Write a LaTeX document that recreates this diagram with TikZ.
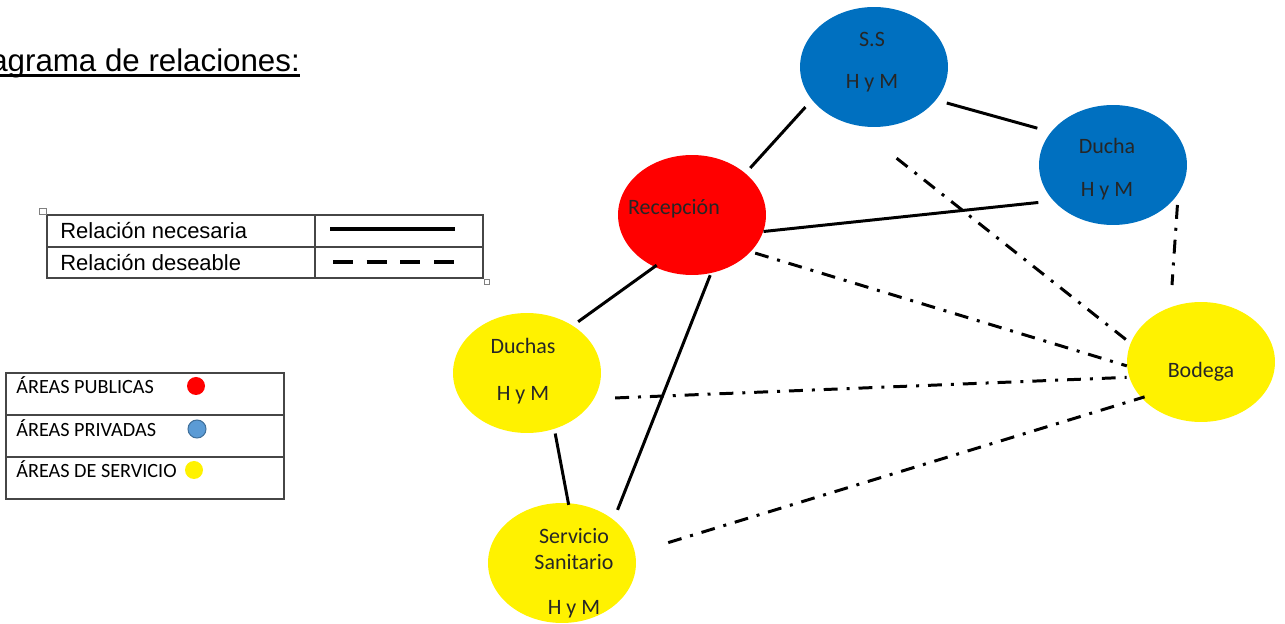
\documentclass[tikz,border=0pt]{standalone}
\usepackage{fontspec}
\setmainfont{Liberation Sans}
\newfontfamily\califont{Carlito}
\usetikzlibrary{shapes.geometric}
\definecolor{areablue}{RGB}{0,112,192}
\definecolor{legendblue}{RGB}{91,155,213}
\definecolor{legendblueline}{RGB}{65,113,156}
\definecolor{tablegray}{RGB}{70,70,70}

\begin{document}
\begin{tikzpicture}[x=0.02cm, y=-0.02cm,
    area/.style={ellipse, minimum width=2.96cm, minimum height=2.4cm, inner sep=0pt},
    areatext/.style={font=\califont\fontsize{12.5}{15}\selectfont, align=center, text=black!85},
    necesaria/.style={line width=1.7pt, line cap=butt},
    deseable/.style={line width=1.7pt, line cap=butt, dash pattern=on 7.9pt off 5.1pt on 1.7pt off 5.1pt},
    tabla/.style={tablegray, line width=0.8pt}]
    \useasboundingbox (0,0) rectangle (1285,624);
    \clip (0,0) rectangle (1285,624);

    % Title
    \node[anchor=base west, inner sep=0pt, font=\fontsize{17.8}{21}\selectfont] (title) at (-10,72) {agrama de relaciones:};
    \draw[line width=1.2pt] ([yshift=-0.07cm]title.base west) -- ([yshift=-0.07cm]title.base east);

    % Relation legend
    \begin{scope}[font=\fontsize{12.5}{15}\selectfont]
        \draw[tabla] (47,215) rectangle (483,278);
        \draw[tabla] (47,247) -- (483,247);
        \draw[tabla] (315,215) -- (315,278);
        \draw[gray, thin] (39,208) rectangle (46,214);
        \draw[gray, thin] (484,279) rectangle (489,284);
        \node[anchor=west, inner sep=0pt] (nec) at (60,231) {Relación necesaria};
        \node[anchor=west, inner sep=0pt] (des) at (60,263) {Relación deseable};
        \draw[line width=2.3pt] (330,229) -- (455,229);
        \draw[line width=2.3pt, dash pattern=on 11.3pt off 7.9pt] (333,262) -- (457,262);
    \end{scope}

    % Area legend
    \begin{scope}[font=\califont\fontsize{11.5}{14}\selectfont]
        \draw[tabla] (6,373) rectangle (284,499);
        \draw[tabla] (6,415) -- (284,415);
        \draw[tabla] (6,457) -- (284,457);
        \node[anchor=west, inner sep=0pt] (pub) at (16,385) {ÁREAS PUBLICAS};
        \node[anchor=west, inner sep=0pt] (pri) at (16,428) {ÁREAS PRIVADAS};
        \node[anchor=west, inner sep=0pt] (ser) at (16,469) {ÁREAS DE SERVICIO};
        \fill[red] (196,386) circle (9);
        \filldraw[fill=legendblue, draw=legendblueline, line width=0.6pt] (197,429) circle (9);
        \fill[yellow] (194,470) circle (9);
    \end{scope}

    % Areas
    \node[area, fill=areablue, label={[areatext, yshift=0.1cm, xshift=-0.04cm]center:S.S\\[0.31cm]H y M}] (ss) at (874,67) {};
    \node[area, fill=areablue, label={[areatext, xshift=-0.12cm, yshift=-0.08cm]center:Ducha\\[0.33cm]H y M}] (duc) at (1113,165) {};
    \node[area, fill=red, label={[areatext, xshift=-0.36cm, yshift=0.12cm]center:Recepción}] (rec) at (692,215) {};
    \node[area, fill=yellow, label={[areatext, xshift=-0.08cm, yshift=0.03cm]center:Duchas\\[0.41cm]H y M}] (dus) at (527,373) {};
    \node[area, fill=yellow, label={[areatext, xshift=0.24cm, yshift=-0.2cm]center:Servicio\\Sanitario\\[0.37cm]H y M}] (san) at (562,563) {};
    \node[area, fill=yellow, label={[areatext, yshift=-0.2cm]center:Bodega}] (bod) at (1201,362) {};

    % Necessary relations
    \draw[necesaria, shorten <=0.14cm, shorten >=0.19cm] (rec.38) -- (ss.208);
    \draw[necesaria, shorten <=0.22cm, shorten >=0.28cm] (ss.-28) -- (duc.152);
    \draw[necesaria, shorten >=0.3cm] (rec.-13) -- (duc.211);
    \draw[necesaria, shorten <=-0.06cm, shorten >=0.13cm] (rec.234) -- (dus.46);
    \draw[necesaria, shorten <=0.04cm, shorten >=0.21cm] (rec.-72) -- (san.40);
    \draw[necesaria, shorten <=0.09cm, shorten >=-0.04cm] (dus.-64) -- (san.84);

    % Desirable relations
    \draw[deseable, shorten <=1.06cm, shorten >=0.09cm] (ss.252) -- (bod.165);
    \draw[deseable, shorten <=0.22cm, shorten >=0.44cm] (duc.-24) -- (bod.119);
    \draw[deseable, shorten <=0.09cm] (rec.-32) -- (bod.183);
    \draw[deseable, shorten <=0.42cm, shorten >=0.05cm] (dus.-21) -- (bod.192);
    \draw[deseable, shorten <=0.69cm, shorten >=-0.07cm] (san.8) -- (bod.211);
\end{tikzpicture}
\end{document}
